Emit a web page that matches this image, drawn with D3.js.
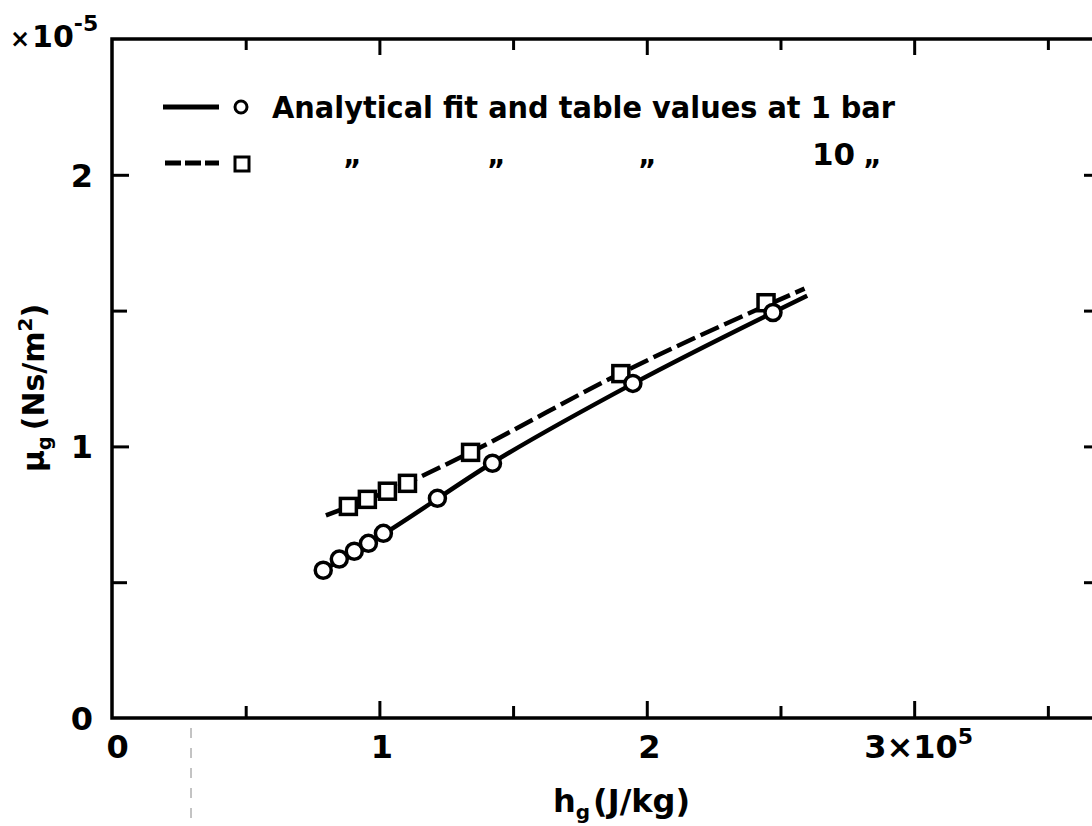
<!DOCTYPE html>
<html>
<head>
<meta charset="utf-8">
<script src="https://cdn.jsdelivr.net/npm/d3@7"></script>
<style>
  body { margin: 0; background: #fff; }
  text { font-family: "DejaVu Sans", sans-serif; font-weight: bold; fill: #000; }
</style>
</head>
<body>
<svg class="chart" width="1092" height="826"></svg>
<script>
// values, x in 1e5 J/kg, y in 1e-5 Ns/m2
var circleX = [0.79, 0.85, 0.906, 0.959, 1.015, 1.217, 1.423, 1.948, 2.472],
  circleY = [0.544, 0.585, 0.614, 0.643, 0.680, 0.809, 0.938, 1.232, 1.493],
  squareX = [0.884, 0.955, 1.030, 1.105, 1.341, 1.903, 2.446],
  squareY = [0.779, 0.805, 0.835, 0.864, 0.978, 1.268, 1.529],
  // analytical fit curves
  fit1X = [0.79, 1.02, 1.42, 1.95, 2.60],
  fit1Y = [0.544, 0.680, 0.938, 1.232, 1.555],
  fit10X = [0.80, 1.10, 1.34, 1.90, 2.59],
  fit10Y = [0.746, 0.864, 0.978, 1.268, 1.581],
  xMajor = [1, 2, 3],
  xMinor = [0.5, 1.5, 2.5, 3.5],
  xLabels = [0, 1, 2, 3],
  yMajor = [1, 2],
  yMinor = [0.5, 1.5],
  yLabels = [0, 1, 2];

var Chart = (function(){

  var that = {},
    svg,
    xScale,
    yScale,
    left = 112, right = 1096, top = 39, bottom = 718;

  function initialize(){
    svg = d3.select(".chart");

    xScale = d3.scaleLinear().domain([0, 3.68]).range([left, right]);
    yScale = d3.scaleLinear().domain([0, 2.5]).range([bottom, top]);

    makeAxes();
    makeLines();
    makeMarkers();
    makeLegend();
    makeTitles();
  }

  function tickAxis(axis, transform){
    var g = svg.append("g")
               .attr("transform", transform)
               .call(axis);
    g.select(".domain").remove();
    g.selectAll("line").attr("stroke", "#000").attr("stroke-width", 3);
    return g;
  }

  function makeAxes(){
    //inward ticks on all four sides, long ones on whole numbers
    tickAxis(d3.axisBottom(xScale).tickValues(xMajor).tickSize(-17).tickFormat(""), "translate(0," + bottom + ")");
    tickAxis(d3.axisBottom(xScale).tickValues(xMinor).tickSize(-12).tickFormat(""), "translate(0," + bottom + ")");
    tickAxis(d3.axisTop(xScale).tickValues(xMajor).tickSize(-16).tickFormat(""), "translate(0," + top + ")");
    tickAxis(d3.axisTop(xScale).tickValues(xMinor).tickSize(-11).tickFormat(""), "translate(0," + top + ")");
    tickAxis(d3.axisLeft(yScale).tickValues(yMajor).tickSize(-17).tickFormat(""), "translate(" + left + ",0)");
    tickAxis(d3.axisLeft(yScale).tickValues(yMinor).tickSize(-15).tickFormat(""), "translate(" + left + ",0)");
    tickAxis(d3.axisRight(yScale).tickValues(yMajor.concat(yMinor)).tickSize(-12).tickFormat(""), "translate(" + right + ",0)");

    //frame
    svg.append("rect")
       .attr("x", left).attr("y", top)
       .attr("width", right - left).attr("height", bottom - top)
       .attr("fill", "none").attr("stroke", "#000").attr("stroke-width", 3.5);

    //tick labels
    var gx = svg.append("g")
                .attr("transform", "translate(0," + bottom + ")")
                .call(d3.axisBottom(xScale).tickValues(xLabels).tickSize(0).tickPadding(0)
                        .tickFormat(function(d){ return d === 3 ? "3\u00d710" : d; }));
    gx.select(".domain").remove();
    gx.selectAll("text")
      .attr("dy", null)
      .attr("y", 40)
      .attr("font-size", 32)
      .attr("dx", function(d){ return d === 0 ? 5 : (d === 3 ? 4 : 2); });
    gx.selectAll("text").filter(function(d){ return d === 3; })
      .append("tspan").attr("dy", -14).attr("font-size", 22).text("5");

    var gy = svg.append("g")
                .attr("transform", "translate(93,0)")
                .call(d3.axisLeft(yScale).tickValues(yLabels).tickSize(0).tickPadding(0)
                        .tickFormat(d3.format("d")));
    gy.select(".domain").remove();
    gy.selectAll("text").attr("font-size", 32).attr("dy", "0.36em");

    var mult = svg.append("text").attr("x", 10).attr("y", 47).attr("font-size", 30);
    mult.append("tspan").attr("font-size", 24).text("\u00d7");
    mult.append("tspan").attr("dx", 2).text("10");
    mult.append("tspan").attr("dy", -16).attr("font-size", 22).text("-5");
  }

  function makeLines(){
    var line = d3.line()
                 .x(function(d){ return xScale(d[0]); })
                 .y(function(d){ return yScale(d[1]); })
                 .curve(d3.curveMonotoneX);

    svg.append("path")
       .attr("d", line(d3.zip(fit1X, fit1Y)))
       .attr("fill", "none").attr("stroke", "#000").attr("stroke-width", 4.5);
    svg.append("path")
       .attr("d", line(d3.zip(fit10X, fit10Y)))
       .attr("fill", "none").attr("stroke", "#000").attr("stroke-width", 4.5)
       .attr("stroke-dasharray", "20 6");
  }

  function makeMarkers(){
    svg.selectAll(".sq")
       .data(d3.zip(squareX, squareY))
       .enter().append("rect")
       .attr("class", "sq")
       .attr("x", function(d){ return xScale(d[0]) - 8; })
       .attr("y", function(d){ return yScale(d[1]) - 8; })
       .attr("width", 16).attr("height", 16)
       .attr("fill", "#fff").attr("stroke", "#000").attr("stroke-width", 3.5);

    svg.selectAll(".ci")
       .data(d3.zip(circleX, circleY))
       .enter().append("circle")
       .attr("class", "ci")
       .attr("cx", function(d){ return xScale(d[0]); })
       .attr("cy", function(d){ return yScale(d[1]); })
       .attr("r", 8)
       .attr("fill", "#fff").attr("stroke", "#000").attr("stroke-width", 3.5);
  }

  function makeLegend(){
    svg.append("line")
       .attr("x1", 163).attr("x2", 219).attr("y1", 107).attr("y2", 107)
       .attr("stroke", "#000").attr("stroke-width", 5);
    svg.append("circle")
       .attr("cx", 241).attr("cy", 107).attr("r", 6)
       .attr("fill", "#fff").attr("stroke", "#000").attr("stroke-width", 3);
    svg.append("text")
       .attr("x", 272).attr("y", 118).attr("font-size", 31)
       .attr("textLength", 623).attr("lengthAdjust", "spacingAndGlyphs")
       .text("Analytical fit and table values at 1 bar");

    svg.append("line")
       .attr("x1", 165).attr("x2", 219).attr("y1", 163).attr("y2", 163)
       .attr("stroke", "#000").attr("stroke-width", 5)
       .attr("stroke-dasharray", "16 4");
    svg.append("rect")
       .attr("x", 235).attr("y", 157).attr("width", 14).attr("height", 14)
       .attr("fill", "#fff").attr("stroke", "#000").attr("stroke-width", 3);

    var ditto = [352, 496, 647, 872];
    svg.selectAll(".ditto")
       .data(ditto)
       .enter().append("text")
       .attr("class", "ditto")
       .attr("x", function(d){ return d; })
       .attr("y", 180).attr("font-size", 28)
       .attr("text-anchor", "middle")
       .text("\u201d");
    svg.append("text")
       .attr("x", 812).attr("y", 165).attr("font-size", 31).text("10");
  }

  function makeTitles(){
    var xt = svg.append("text").attr("x", 553).attr("y", 812).attr("font-size", 32);
    xt.append("tspan").text("h");
    xt.append("tspan").attr("dy", 7).attr("font-size", 20).text("g");
    xt.append("tspan").attr("dy", -7).attr("dx", 3).text("(J/kg)");

    var yt = svg.append("text")
                .attr("transform", "translate(44,472) rotate(-90)")
                .attr("font-size", 30);
    yt.append("tspan").text("\u03bc");
    yt.append("tspan").attr("dy", 7).attr("font-size", 19).text("g");
    yt.append("tspan").attr("dy", -7).attr("dx", 6).text("(Ns/m");
    yt.append("tspan").attr("dy", -12).attr("font-size", 20).text("2");
    yt.append("tspan").attr("dy", 12).text(")");

    //scan artefact: faint dashed line below the axis
    svg.append("line")
       .attr("x1", 191).attr("x2", 191).attr("y1", 728).attr("y2", 826)
       .attr("stroke", "#888").attr("stroke-width", 1)
       .attr("stroke-dasharray", "10 10");
  }

  that.init = initialize;
  return that;

})();

Chart.init();
</script>
</body>
</html>
